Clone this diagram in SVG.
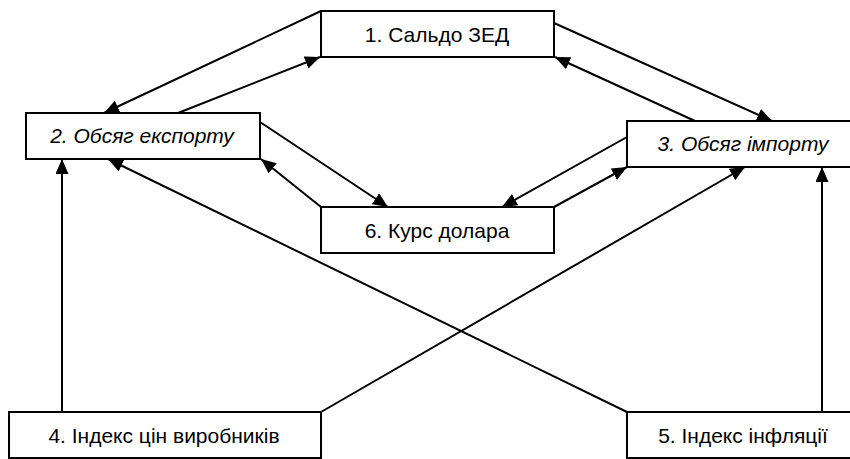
<svg xmlns="http://www.w3.org/2000/svg" width="850" height="459" viewBox="0 0 850 459">
<style>
.box{fill:#fff;stroke:#000;stroke-width:2}
.t{font-family:"Liberation Sans",Arial,sans-serif;font-size:21px;fill:#000;text-anchor:middle}
.i{font-style:italic}
.c line{stroke:#000;stroke-width:2;marker-end:url(#ah)}
</style>
<defs>
<marker id="ah" markerUnits="userSpaceOnUse" markerWidth="17" markerHeight="14" refX="15" refY="6.5" orient="auto">
<path d="M0,0 L15,6.5 L0,13 z" fill="#000"/>
</marker>
</defs>
<rect width="850" height="459" fill="#fff"/>
<g id="connectors" class="c">
<line x1="321" y1="11" x2="104" y2="113"/>
<line x1="178" y1="113" x2="320" y2="57"/>
<line x1="260" y1="122" x2="388" y2="207"/>
<line x1="321" y1="207" x2="261" y2="159"/>
<line x1="554" y1="207" x2="627" y2="167"/>
<line x1="627" y1="137" x2="502" y2="207"/>
<line x1="554" y1="23" x2="772" y2="121"/>
<line x1="695" y1="121" x2="555" y2="57"/>
<line x1="62" y1="412" x2="62" y2="159"/>
<line x1="321" y1="412" x2="745" y2="167"/>
<line x1="627" y1="412" x2="108" y2="159"/>
<line x1="822" y1="412" x2="822" y2="167"/>
</g>
<g id="n1"><rect class="box" x="321" y="11" width="233" height="46"/><text class="t" x="437" y="42">1. Сальдо ЗЕД</text></g>
<g id="n2"><rect class="box" x="26" y="113" width="234" height="46"/><text class="t i" x="142" y="143">2. Обсяг експорту</text></g>
<g id="n3"><rect class="box" x="627" y="121" width="233" height="46"/><text class="t i" x="743" y="151">3. Обсяг імпорту</text></g>
<g id="n6"><rect class="box" x="321" y="207" width="233" height="46"/><text class="t" x="437" y="238">6. Курс долара</text></g>
<g id="n4"><rect class="box" x="9" y="412" width="312" height="46"/><text class="t" x="164" y="443">4. Індекс цін виробників</text></g>
<g id="n5"><rect class="box" x="627" y="412" width="233" height="46"/><text class="t" x="743" y="443">5. Індекс інфляції</text></g>
</svg>
